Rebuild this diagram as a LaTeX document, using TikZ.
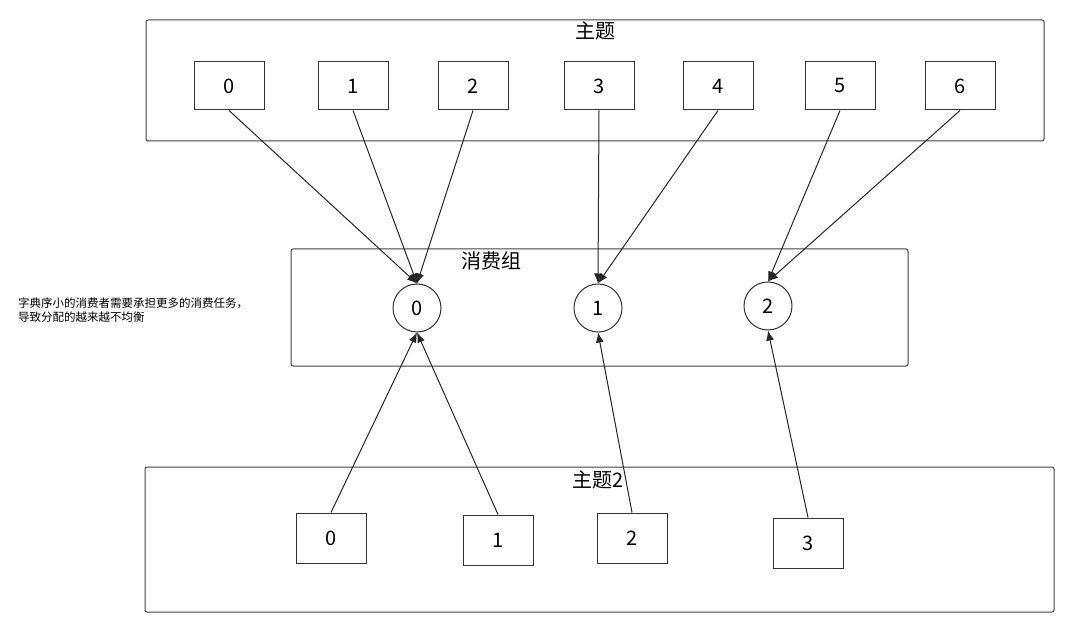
\documentclass[tikz,border=0pt]{standalone}
\usepackage{fontspec}
\usetikzlibrary{arrows.meta}
\setmainfont{Noto Sans CJK SC}
\begin{document}
\begin{tikzpicture}[x=1pt,y=-1pt,
  frame/.style={draw=black!75,line width=1pt,rounded corners=2pt},
  sbox/.style={draw=black!80,line width=1pt,minimum width=70pt,minimum height=48pt,font=\fontsize{20}{22}\selectfont},
  circ/.style={draw=black!80,line width=1pt,circle,minimum size=48pt,inner sep=0pt,font=\fontsize{20}{22}\selectfont},
  arr/.style={draw=black!85,line width=1pt,-{Latex[length=10pt,width=8pt]}}]
\useasboundingbox (0,0) rectangle (1088,631);
\draw[frame] (146,20) rectangle (1044,141);
\draw[frame] (291,249) rectangle (908,366);
\draw[frame] (145,467) rectangle (1054,612);
\node[font=\fontsize{20}{22}\selectfont] (t1) at (595,31) {主题};
\node[font=\fontsize{20}{22}\selectfont] (t2) at (491,261) {消费组};
\node[font=\fontsize{20}{22}\selectfont] (t3) at (598,480) {主题2};
\foreach \n/\x in {0/229,1/353,2/473,3/599,4/718,5/840,6/960}
  \node[sbox] (a\n) at (\x,86) {\n};
\node[circ] (c0) at (417,308) {0};
\node[circ] (c1) at (598,308) {1};
\node[circ] (c2) at (768,306) {2};
\node[sbox,minimum height=50pt] (b0) at (331,538) {0};
\node[sbox,minimum height=50pt] (b1) at (498,540) {1};
\node[sbox,minimum height=50pt] (b2) at (632,538) {2};
\node[sbox,minimum height=50pt] (b3) at (808,543) {3};
\foreach \n in {0,1,2} \draw[arr] (a\n.south) -- (c0.north);
\foreach \n in {3,4} \draw[arr] (a\n.south) -- (c1.north);
\foreach \n in {5,6} \draw[arr] (a\n.south) -- (c2.north);
\draw[arr] (b0.north) -- (c0.south);
\draw[arr] (b1.north) -- (c0.south);
\draw[arr] (b2.north) -- (c1.south);
\draw[arr] (b3.north) -- (c2.south);
\node[anchor=west,align=left,font=\fontsize{11.5}{14}\selectfont,inner sep=0pt] (note) at (18,310) {字典序小的消费者需要承担更多的消费任务，\\导致分配的越来越不均衡};
\end{tikzpicture}
\end{document}
